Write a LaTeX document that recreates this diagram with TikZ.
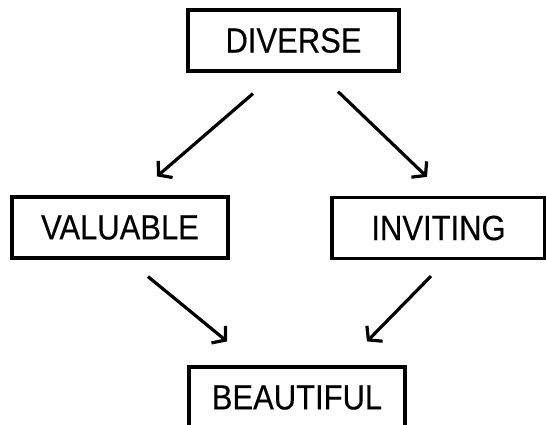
\documentclass[tikz,border=0pt]{standalone}
\usepackage{fontspec}
\setmainfont{Liberation Sans}
\newfontfamily\wordfont[FakeBold=0.3]{Liberation Sans}
\usetikzlibrary{arrows.meta}
\tikzset{
  word/.style={draw=black, line width=3.2pt, minimum height=61pt, inner sep=0pt,
    font=\wordfont\fontsize{35}{40}\selectfont},
  arr/.style={line width=3.2pt, -{Straight Barb[length=9pt,width=22pt,line width=3.2pt]}}
}
\newcommand{\sq}[1]{\scalebox{0.885}[1]{#1}}
\begin{document}
\begin{tikzpicture}[x=1pt,y=-1pt]
\useasboundingbox (0,0) rectangle (546,425);
\begin{scope}
\clip (0,0) rectangle (546,425);
\node[word, minimum width=211pt] (D) at (293.5,40.5) {\sq{DIVERSE}};
\node[word, minimum width=216pt] (V) at (120,227.5) {\sq{VALUABLE}};
\node[word, minimum width=213pt] (I) at (438.5,228) {\sq{INVITING}};
\node[word, minimum width=216pt] (B) at (297,397.5) {\sq{BEAUTIFUL}};
\end{scope}
\draw[arr] ([xshift=-40.5pt,yshift=-21pt]D.south) -- ([xshift=37pt,yshift=19pt]V.north);
\draw[arr] ([xshift=44.5pt,yshift=-19pt]D.south) -- ([xshift=-11.5pt,yshift=19pt]I.north);
\draw[arr] ([xshift=28pt,yshift=-17pt]V.south) -- ([xshift=-70pt,yshift=24pt]B.north);
\draw[arr] ([xshift=-7.5pt,yshift=-16pt]I.south) -- ([xshift=70pt,yshift=24pt]B.north);
\end{tikzpicture}
\end{document}
